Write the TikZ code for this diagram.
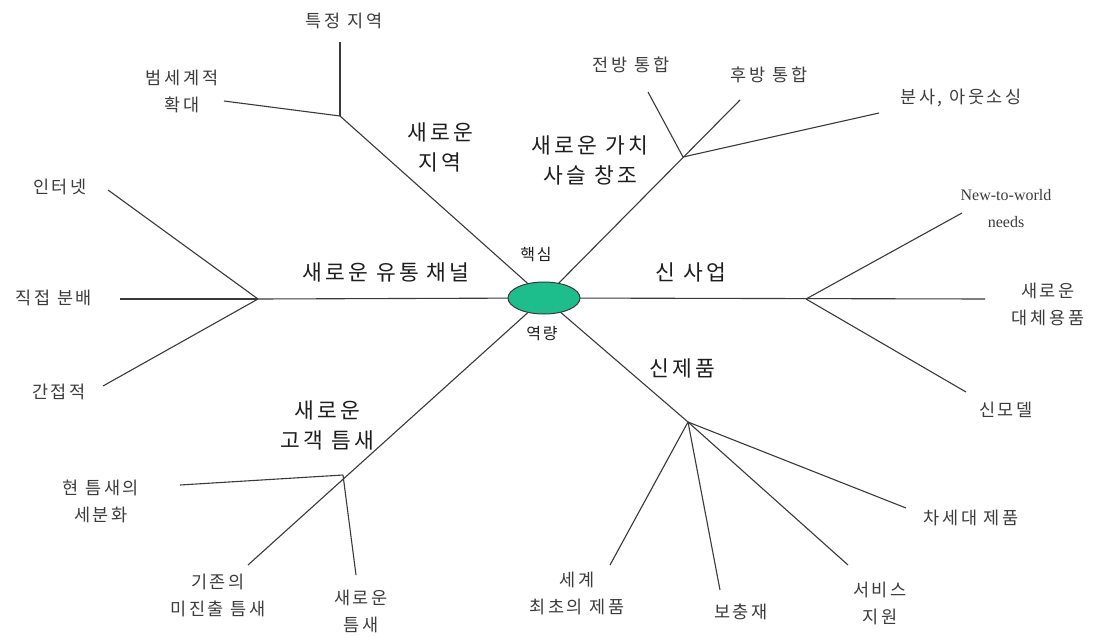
\documentclass[tikz,border=0pt]{standalone}
\usepackage{fontspec}
\setmainfont{Noto Sans CJK KR}
\newfontfamily\enserif{Liberation Serif}
\definecolor{linec}{HTML}{3A3A3A}
\definecolor{leaftxt}{HTML}{3C3C3C}
\definecolor{maintxt}{HTML}{1E1E1E}
\definecolor{corefill}{HTML}{1DBE8C}
\tikzset{
  branch/.style={draw=linec, line width=1.1pt},
  leaf/.style={font=\fontsize{17.5}{27}\selectfont\addfontfeature{LetterSpace=15}, text=leaftxt, align=center, inner sep=0pt},
  mainlab/.style={font=\fontsize{21.5}{30}\selectfont\addfontfeature{LetterSpace=15}, text=maintxt, align=center, inner sep=0pt},
  corelab/.style={font=\fontsize{16}{18}\selectfont\addfontfeature{LetterSpace=10}, text=maintxt, inner sep=0pt},
  coreshape/.style={ellipse, draw=linec, line width=1pt, fill=corefill, minimum width=72pt, minimum height=32pt, inner sep=0pt},
}
\usetikzlibrary{shapes.geometric}
\begin{document}
\begin{tikzpicture}[x=1pt, y=-1pt]
\useasboundingbox (0,0) rectangle (1098,637);
\fill[white] (0,0) rectangle (1098,637);

% junction and end coordinates
\coordinate (C) at (544,298);
\coordinate (Jl) at (258,299);
\coordinate (Jul) at (340,116);
\coordinate (Jur) at (683,157);
\coordinate (Jr) at (806,299);
\coordinate (Jlr) at (688,422);
\coordinate (Jll) at (343,475);

\coordinate (eInet) at (108,190);
\coordinate (eDirect) at (120,299);
\coordinate (eIndirect) at (103,386);
\coordinate (eGlobal) at (224,101);
\coordinate (eRegion) at (340,42);
\coordinate (eFwd) at (648,92);
\coordinate (eBwd) at (740,100);
\coordinate (eSpin) at (879,113);
\coordinate (eNtw) at (962,213);
\coordinate (eSubst) at (985,299);
\coordinate (eModel) at (966,392);
\coordinate (eNext) at (906,508);
\coordinate (eService) at (848,565);
\coordinate (eCompl) at (720,590);
\coordinate (eFirst) at (610,565);
\coordinate (eNewNiche) at (356,575);
\coordinate (eUntapped) at (248,565);
\coordinate (eSegment) at (180,485);

% main branches
\draw[branch] (Jl) -- (C);
\draw[branch] (Jul) -- (C);
\draw[branch] (eBwd) -- (C);
\draw[branch] (eSubst) -- (C);
\draw[branch] (Jlr) -- (C);
\draw[branch] (eUntapped) -- (C);

% sub branches
\draw[branch] (eInet) -- (Jl);
\draw[branch] (eDirect) -- (Jl);
\draw[branch] (eIndirect) -- (Jl);
\draw[branch] (eGlobal) -- (Jul);
\draw[branch] (eRegion) -- (Jul);
\draw[branch] (eFwd) -- (Jur);
\draw[branch] (eSpin) -- (Jur);
\draw[branch] (eNtw) -- (Jr);
\draw[branch] (eModel) -- (Jr);
\draw[branch] (eNext) -- (Jlr);
\draw[branch] (eService) -- (Jlr);
\draw[branch] (eCompl) -- (Jlr);
\draw[branch] (eFirst) -- (Jlr);
\draw[branch] (eNewNiche) -- (Jll);
\draw[branch] (eSegment) -- (Jll);

% core
\node[coreshape] (core) at (C) {};
\node[corelab] (coreTop) at (536,255) {핵심};
\node[corelab] (coreBot) at (542,334) {역량};

% main labels
\node[mainlab] (lChannel) at (386,272) {새로운 유통 채널};
\node[mainlab] (lRegion) at (440,147) {새로운\\지역};
\node[mainlab] (lValue) at (590,160) {새로운 가치\\사슬 창조};
\node[mainlab] (lBiz) at (691,272) {신 사업};
\node[mainlab] (lProduct) at (682,368) {신제품};
\node[mainlab] (lCustomer) at (327,425) {새로운\\고객 틈새};

% leaves
\node[leaf] (tInet) at (60,187) {인터넷};
\node[leaf] (tDirect) at (54,298) {직접 분배};
\node[leaf] (tIndirect) at (59,392) {간접적};
\node[leaf] (tGlobal) at (182,91) {범세계적\\확대};
\node[leaf] (tRegion) at (344,21) {특정 지역};
\node[leaf] (tFwd) at (631,65) {전방 통합};
\node[leaf] (tBwd) at (769,75) {후방 통합};
\node[leaf] (tSpin) at (961,98) {분사, 아웃소싱};
\node[leaf, font=\enserif\fontsize{16}{27}\selectfont] (tNtw) at (1006,209) {New-to-world\\needs};
\node[leaf] (tSubst) at (1048,304) {새로운\\대체용품};
\node[leaf] (tModel) at (1006,410) {신모델};
\node[leaf] (tNext) at (971,518) {차세대 제품};
\node[leaf] (tService) at (880,603) {서비스\\지원};
\node[leaf] (tCompl) at (741,612) {보충재};
\node[leaf] (tFirst) at (577,593) {세계\\최초의 제품};
\node[leaf] (tNewNiche) at (361,611) {새로운\\틈새};
\node[leaf] (tUntapped) at (218,595) {기존의\\미진출 틈새};
\node[leaf] (tSegment) at (101,501) {현 틈새의\\세분화};
\end{tikzpicture}
\end{document}
